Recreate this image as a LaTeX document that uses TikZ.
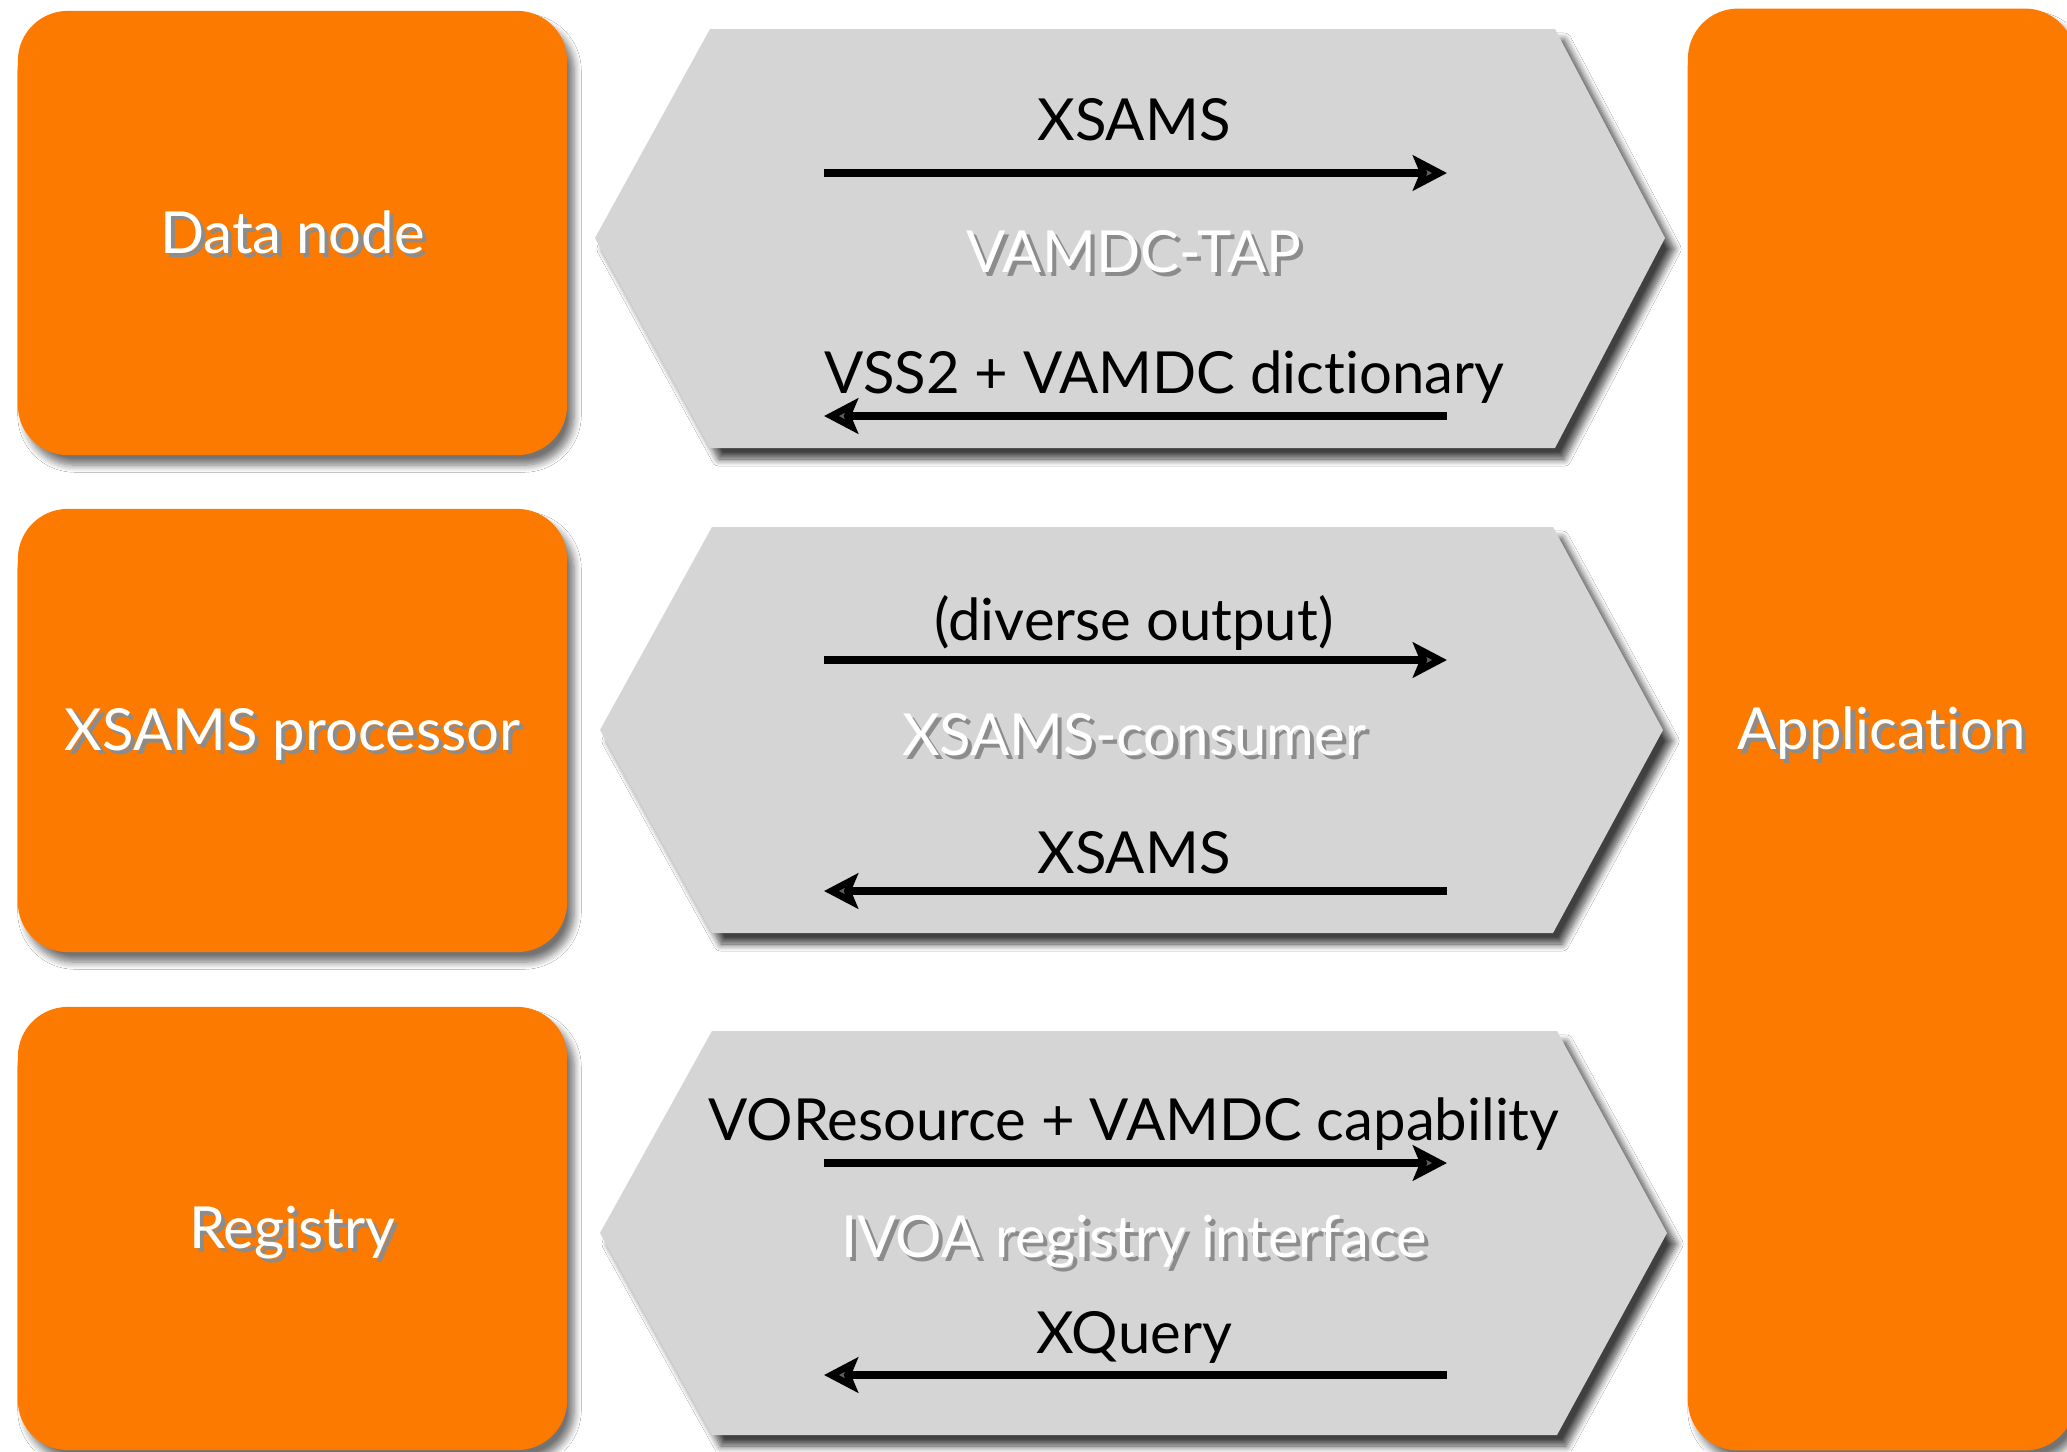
\documentclass[tikz,border=0pt]{standalone}
\usepackage{fontspec}
\setmainfont{Lato}[Ligatures={NoCommon,NoDiscretionary}]
\usetikzlibrary{arrows.meta,shadows.blur}
\definecolor{vorange}{HTML}{FC7A00}
\definecolor{vgray}{HTML}{D5D5D5}
\newcommand\dropped[1]{\leavevmode\rlap{\kern1.2pt\raisebox{-1.2pt}{\color{black!45}#1}}#1}
\tikzset{
  box/.style={fill=vorange, rounded corners=0.5cm, text=white, inner sep=0pt,
    font=\fontsize{16.5}{19}\selectfont, text height=0.4cm, text depth=0cm,
    blur shadow={shadow xshift=0.7mm, shadow yshift=-1mm, shadow blur steps=8, shadow opacity=55}},
  hexa/.style={fill=vgray,
    blur shadow={shadow xshift=0.9mm, shadow yshift=-1.1mm, shadow blur steps=10, shadow opacity=75}},
  msg/.style={font=\fontsize{16.5}{19}\selectfont, text=black, inner sep=0pt, anchor=base},
  proto/.style={msg, text=white},
  flow/.style={line width=2.3pt, -{Stealth[length=0.34cm, width=0.35cm, inset=0.07cm]}}
}
\begin{document}
\begin{tikzpicture}[x=0.01cm, y=-0.01cm]
\clip (0,0) rectangle (2067,1451);
\fill[white] (0,0) rectangle (2067,1451);

\node[box, minimum width=5.49cm, minimum height=4.44cm] (data) at (292.5,233) {\dropped{Data node}};
\node[box, minimum width=5.49cm, minimum height=4.43cm] (proc) at (292.5,730.5) {\dropped{XSAMS processor}};
\node[box, minimum width=5.49cm, minimum height=4.43cm] (reg) at (292.5,1228.5) {\dropped{Registry}};
\node[box, minimum width=3.87cm, minimum height=14.41cm] (app) at (1881.5,729.5) {\dropped{Application}};

\path[hexa] (595,238) -- (710,29) -- (1555,29) -- (1665,238) -- (1555,448) -- (710,448) -- cycle;
\path[hexa] (600,730) -- (712,527) -- (1553,527) -- (1663,730) -- (1553,933) -- (712,933) -- cycle;
\path[hexa] (600,1233) -- (712,1031) -- (1557,1031) -- (1667,1233) -- (1557,1435) -- (712,1435) -- cycle;

\node[msg] (xsout) at (1134,140) {XSAMS};
\node[proto] (tap) at (1134,272) {\dropped{VAMDC-TAP}};
\node[msg, anchor=base west] (vss) at (824,393) {VSS2 + VAMDC dictionary};
\coordinate (q1a) at (824,173);
\coordinate (q1b) at (1447,173);
\coordinate (q2a) at (1447,416);
\coordinate (q2b) at (824,416);
\draw[flow] (q1a) -- (q1b);
\draw[flow] (q2a) -- (q2b);

\node[msg] (diverse) at (1134,640) {(diverse output)};
\node[proto] (consumer) at (1134,755) {\dropped{XSAMS-consumer}};
\node[msg] (xsin) at (1134,873) {XSAMS};
\coordinate (p1a) at (824,660);
\coordinate (p1b) at (1447,660);
\coordinate (p2a) at (1447,891);
\coordinate (p2b) at (824,891);
\draw[flow] (p1a) -- (p1b);
\draw[flow] (p2a) -- (p2b);

\node[msg] (vores) at (1134,1140) {VOResource + VAMDC capability};
\node[proto] (ivoa) at (1134,1257) {\dropped{IVOA registry interface}};
\node[msg] (xquery) at (1134,1353) {XQuery};
\coordinate (r1a) at (824,1163);
\coordinate (r1b) at (1447,1163);
\coordinate (r2a) at (1447,1375);
\coordinate (r2b) at (824,1375);
\draw[flow] (r1a) -- (r1b);
\draw[flow] (r2a) -- (r2b);
\end{tikzpicture}
\end{document}
